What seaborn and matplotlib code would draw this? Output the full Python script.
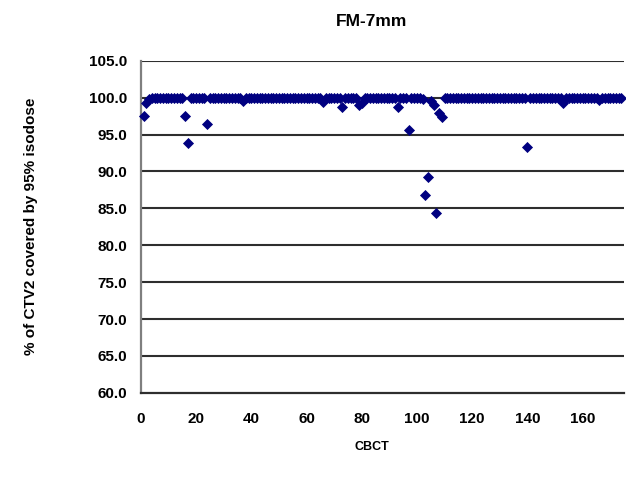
import matplotlib
matplotlib.use("Agg")
import matplotlib.pyplot as plt
import seaborn as sns
import numpy as np
import pandas as pd
from matplotlib.ticker import FormatStrFormatter

# CBCT index and % coverage values
cbct = list(range(1, 175))
coverage = [
    97.5, 99.3, 99.8, 100.0, 100.0, 100.0, 100.0, 100.0, 100.0, 100.0,   # 1-10
    100.0, 100.0, 100.0, 100.0, 100.0, 97.5, 93.8, 100.0, 100.0, 100.0,  # 11-20
    100.0, 100.0, 100.0, 96.5, 100.0, 100.0, 100.0, 100.0, 100.0, 100.0, # 21-30
    100.0, 100.0, 100.0, 100.0, 100.0, 100.0, 99.6, 100.0, 100.0, 100.0, # 31-40
    100.0, 100.0, 100.0, 100.0, 100.0, 100.0, 100.0, 100.0, 100.0, 100.0,# 41-50
    100.0, 100.0, 100.0, 100.0, 100.0, 100.0, 100.0, 100.0, 100.0, 100.0,# 51-60
    100.0, 100.0, 100.0, 100.0, 100.0, 99.4, 100.0, 100.0, 100.0, 100.0, # 61-70
    100.0, 100.0, 98.8, 100.0, 100.0, 100.0, 100.0, 100.0, 99.0, 99.3,   # 71-80
    100.0, 100.0, 100.0, 100.0, 100.0, 100.0, 100.0, 100.0, 100.0, 100.0,# 81-90
    100.0, 100.0, 98.8, 100.0, 100.0, 100.0, 95.6, 100.0, 100.0, 100.0,  # 91-100
    100.0, 99.8, 86.8, 89.3, 99.6, 99.0, 84.4, 97.9, 97.4, 100.0,        # 101-110
    100.0, 100.0, 100.0, 100.0, 100.0, 100.0, 100.0, 100.0, 100.0, 100.0,# 111-120
    100.0, 100.0, 100.0, 100.0, 100.0, 100.0, 100.0, 100.0, 100.0, 100.0,# 121-130
    100.0, 100.0, 100.0, 100.0, 100.0, 100.0, 100.0, 100.0, 100.0, 93.3, # 131-140
    100.0, 100.0, 100.0, 100.0, 100.0, 100.0, 100.0, 100.0, 100.0, 100.0,# 141-150
    100.0, 100.0, 99.3, 100.0, 100.0, 100.0, 100.0, 100.0, 100.0, 100.0, # 151-160
    100.0, 100.0, 100.0, 100.0, 100.0, 99.7, 100.0, 100.0, 100.0, 100.0, # 161-170
    100.0, 100.0, 100.0, 100.0,                                          # 171-174
]
x_ticks = [0, 20, 40, 60, 80, 100, 120, 140, 160]
y_ticks = [60, 65, 70, 75, 80, 85, 90, 95, 100, 105]

df = pd.DataFrame({"CBCT": cbct, "coverage": coverage})

sns.set_style("white")
plt.rcParams["font.family"] = ["Liberation Sans", "DejaVu Sans"]
plt.rcParams["font.weight"] = "bold"

fig = plt.figure(figsize=(6.26, 4.79), dpi=100)
ax = fig.add_axes([0.225, 0.18, 0.772, 0.693])

for yv in y_ticks[1:]:
    ax.axhline(yv, color="#2e2e2e", lw=1.5, zorder=1)

sns.scatterplot(data=df, x="CBCT", y="coverage", marker="D", s=32,
                color="#000080", edgecolor="#000080", linewidth=0,
                ax=ax, zorder=3, clip_on=False)

ax.set_xlim(0, 175)
ax.set_ylim(60, 105)
ax.set_xticks(x_ticks)
ax.set_yticks(y_ticks)
ax.yaxis.set_major_formatter(FormatStrFormatter("%.1f"))
for lab in ax.get_xticklabels() + ax.get_yticklabels():
    lab.set_fontweight("bold")
    lab.set_fontsize(11)
    lab.set_color("#000000")

ax.tick_params(axis="both", direction="out", length=4, width=1.2,
               color="#7f7f7f", pad=6)
ax.tick_params(axis="x", pad=10)
for side in ["top", "right"]:
    ax.spines[side].set_visible(False)
for side in ["left", "bottom"]:
    ax.spines[side].set_color("#7f7f7f")
    ax.spines[side].set_linewidth(1.6)
ax.spines["bottom"].set_color("#2e2e2e")

ax.set_xlabel("")
ax.set_ylabel("")
fig.text(372 / 626, 1 - 21 / 479, "FM-7mm", ha="center", va="center",
         fontsize=12.5, fontweight="bold", color="#000000")
fig.text(372 / 626, 1 - 447 / 479, "CBCT", ha="center", va="center",
         fontsize=9, fontweight="bold", color="#000000")
fig.text(31 / 626, 1 - 226 / 479, "% of CTV2 covered by 95% isodose",
         ha="center", va="center", rotation=90, fontsize=11,
         fontweight="bold", color="#000000")

fig.savefig("out.png", dpi=100)
